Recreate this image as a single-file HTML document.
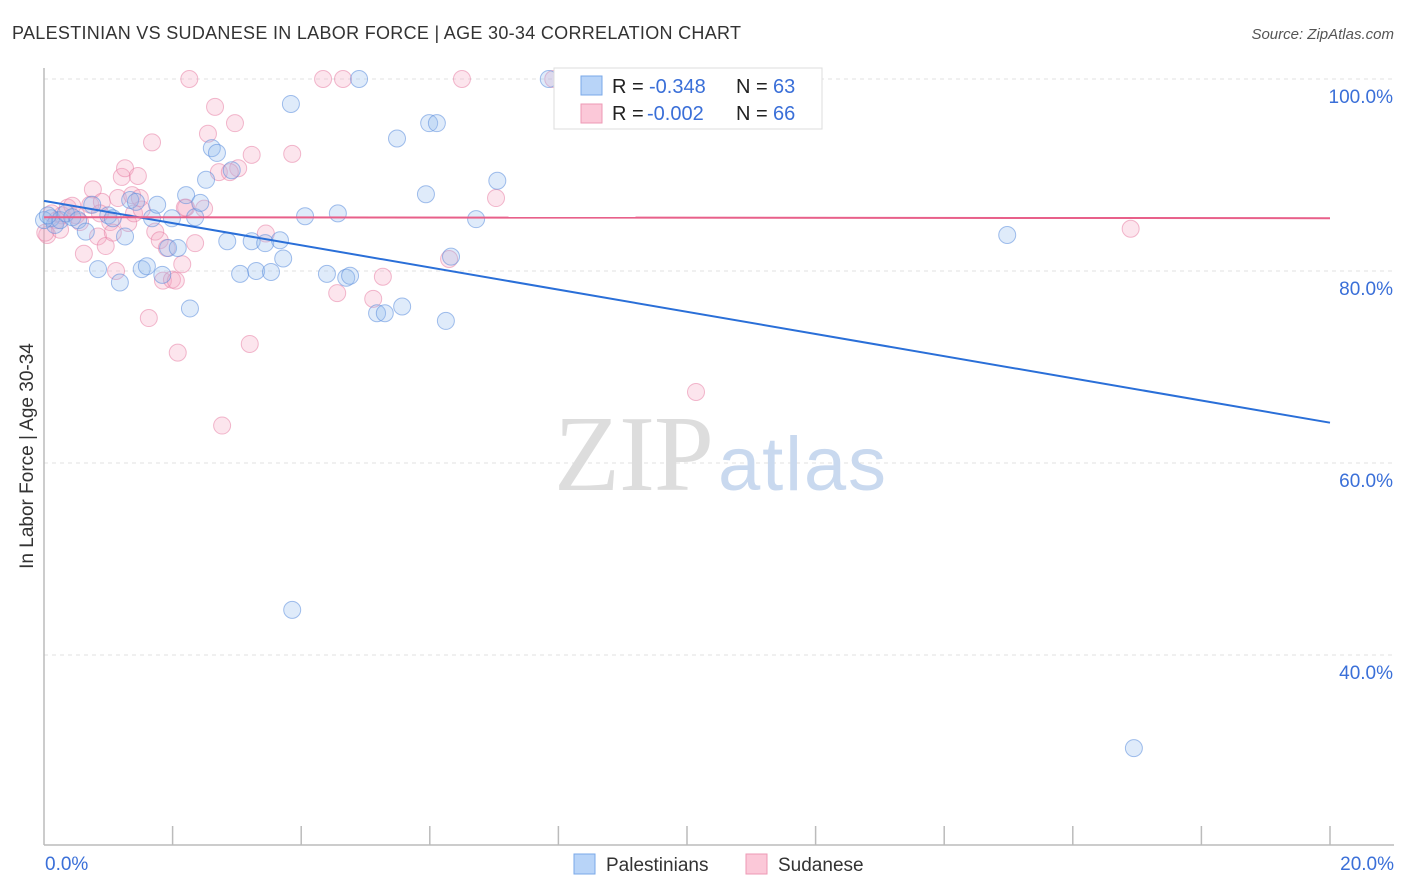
<!DOCTYPE html>
<html><head><meta charset="utf-8">
<style>
body{margin:0;background:#fff;font-family:"Liberation Sans",sans-serif;}
#wrap{position:relative;width:1406px;height:892px;overflow:hidden;}
</style></head>
<body>
<div id="wrap">
<svg id="svg" width="1406" height="892" xmlns="http://www.w3.org/2000/svg">
<text x="12" y="39" font-size="18" fill="#333" textLength="729">PALESTINIAN VS SUDANESE IN LABOR FORCE | AGE 30-34 CORRELATION CHART</text>
<text x="1394" y="39" font-size="15" fill="#555" font-style="italic" text-anchor="end">Source: ZipAtlas.com</text>
<text x="33" y="456" font-size="19" fill="#333" text-anchor="middle" transform="rotate(-90 33 456)">In Labor Force | Age 30-34</text>
<g id="grid"></g>
<text x="554" y="490" font-size="108" fill="#ddd" textLength="160" font-family="Liberation Serif, serif">ZIP</text>
<text x="718" y="490" font-size="76" fill="#c9d9ef" textLength="168">atlas</text>
<g id="pts"></g>
<g id="lines"></g>
<g>
<rect x="554" y="68" width="268" height="61" fill="#fff" stroke="#ddd"/>
<rect x="581" y="76" width="21" height="19" fill="#b8d4f8" stroke="#7aa8e8"/>
<rect x="581" y="104" width="21" height="19" fill="#fbc8d8" stroke="#ee99b5"/>
<text y="93" font-size="20" fill="#222"><tspan x="612">R =</tspan><tspan x="649" fill="#3a6fd8">-0.348</tspan><tspan x="736">N =</tspan><tspan x="773" fill="#3a6fd8">63</tspan></text>
<text y="120" font-size="20" fill="#222"><tspan x="612">R =</tspan><tspan x="647" fill="#3a6fd8">-0.002</tspan><tspan x="736">N =</tspan><tspan x="773" fill="#3a6fd8">66</tspan></text>
</g>
<g>
<rect x="574" y="854" width="21" height="20" fill="#b8d4f8" stroke="#7aa8e8"/>
<text x="606" y="871" font-size="19" fill="#333">Palestinians</text>
<rect x="746" y="854" width="21" height="20" fill="#fbc8d8" stroke="#ee99b5"/>
<text x="778" y="871" font-size="19" fill="#333">Sudanese</text>
</g>
</svg>
</div>
<script>
const yTicks=[100,80,60,40];
const xTickLabels=["0.0%","20.0%"];
const blueX=[0.11,0.17,0.25,0.34,0.44,0.53,0.65,0.75,0.84,1.00,1.07,1.18,1.26,1.34,1.43,1.52,1.60,1.68,1.76,1.84,1.93,1.99,2.08,2.21,2.27,2.35,2.43,2.52,2.61,2.69,2.85,2.92,3.05,3.23,3.30,3.44,3.53,3.67,3.72,3.84,3.86,4.06,4.40,4.57,4.70,4.76,4.90,5.18,5.30,5.49,5.57,5.94,5.99,6.11,6.25,6.33,6.72,7.05,7.85,14.98,16.95,0.0,0.06];
const blueY=[85.5,84.8,85.3,86.0,85.6,85.3,84.1,86.9,80.2,85.8,85.5,78.8,83.6,87.4,87.2,80.2,80.5,85.5,86.9,79.6,82.4,85.5,82.4,87.9,76.1,85.6,87.1,89.5,92.8,92.3,83.1,90.5,79.7,83.1,80.0,82.9,79.9,83.2,81.3,97.4,44.7,85.7,79.7,86.0,79.3,79.5,100,75.6,75.6,93.8,76.3,88.0,95.4,95.4,74.8,81.5,85.4,89.4,100,83.75,30.3,85.3,85.8];
const pinkX=[0.05,0.12,0.20,0.28,0.37,0.44,0.50,0.56,0.62,0.72,0.76,0.84,0.90,0.96,1.03,1.07,1.12,1.15,1.21,1.26,1.31,1.37,1.40,1.46,1.52,1.63,1.68,1.73,1.80,1.85,1.91,1.99,2.05,2.08,2.15,2.21,2.26,2.35,2.49,2.55,2.66,2.72,2.77,2.97,3.02,3.20,3.23,3.45,3.86,4.34,4.56,4.65,5.12,5.27,6.30,6.50,7.03,7.92,10.14,16.90,0.02,0.87,0.25,1.49,2.19,2.89];
const pinkY=[83.75,86.0,85.3,85.8,86.6,86.8,85.8,85.1,81.8,86.9,88.5,83.6,87.2,82.6,85.1,84.0,80.0,87.6,89.8,90.7,85.0,87.9,86.0,89.9,86.4,75.1,93.4,84.1,83.2,79.0,82.4,79.1,79.0,71.5,80.7,86.6,100,82.9,86.5,94.3,97.1,90.3,63.9,95.4,90.7,72.4,92.1,83.9,92.2,100,77.7,100,77.1,79.4,81.25,100,87.6,100,67.4,84.4,84.0,86.0,84.3,87.6,86.6,90.3];
const trendBlue=[87.3,64.2];
const trendPink=[85.6,85.5];

const NS="http://www.w3.org/2000/svg";
const X=v=>44+v*(1286/20);
const Y=v=>79+(100-v)*9.6;
function mk(tag,attrs,parent){const e=document.createElementNS(NS,tag);for(const k in attrs)e.setAttribute(k,attrs[k]);parent.appendChild(e);return e;}
const grid=document.getElementById('grid');
yTicks.forEach(t=>{
  const l=mk('line',{x1:44,x2:1394,y1:Y(t),y2:Y(t),stroke:'#e2e2e2','stroke-dasharray':'4 4'},grid);
  
  
  const tx=mk('text',{x:1393,y:Y(t)+24,'font-size':19,fill:'#3a6fd8','text-anchor':'end'},grid);
  tx.textContent=t.toFixed(1)+'%';
  
  
});
const ax=mk('line',{x1:44,x2:44,y1:68,y2:845,stroke:'#bbb','stroke-width':1.5},grid);


const bx=mk('line',{x1:44,x2:1394,y1:845,y2:845,stroke:'#bbb','stroke-width':1.5},grid);


for(let i=1;i<=10;i++){
  const t=mk('line',{x1:X(i*2),x2:X(i*2),y1:826,y2:845,stroke:'#bbb','stroke-width':1.5},grid);
  
  
}
[[0,'start',45],[20,'end',1394]].forEach((a,i)=>{
  const t=mk('text',{x:a[2],y:870,'font-size':19,fill:'#3a6fd8','text-anchor':a[1]},grid);
  t.textContent=xTickLabels[i];
  
  
});
const pts=document.getElementById('pts');
pinkX.forEach((v,i)=>{
  const c=mk('circle',{cx:X(v),cy:Y(pinkY[i]),r:8.5,fill:'rgba(245,170,195,0.3)',stroke:'rgba(232,130,165,0.55)','stroke-width':1},pts);
  
  
});
blueX.forEach((v,i)=>{
  const c=mk('circle',{cx:X(v),cy:Y(blueY[i]),r:8.5,fill:'rgba(150,190,240,0.3)',stroke:'rgba(90,140,220,0.55)','stroke-width':1},pts);
  
  
});
const lines=document.getElementById('lines');
const lb=mk('line',{x1:X(0),y1:Y(trendBlue[0]),x2:X(20),y2:Y(trendBlue[1]),stroke:'#2a6fd8','stroke-width':2},lines);


const lp=mk('line',{x1:X(0),y1:Y(trendPink[0]),x2:X(20),y2:Y(trendPink[1]),stroke:'#e8608a','stroke-width':2},lines);


</script>
</body></html>
